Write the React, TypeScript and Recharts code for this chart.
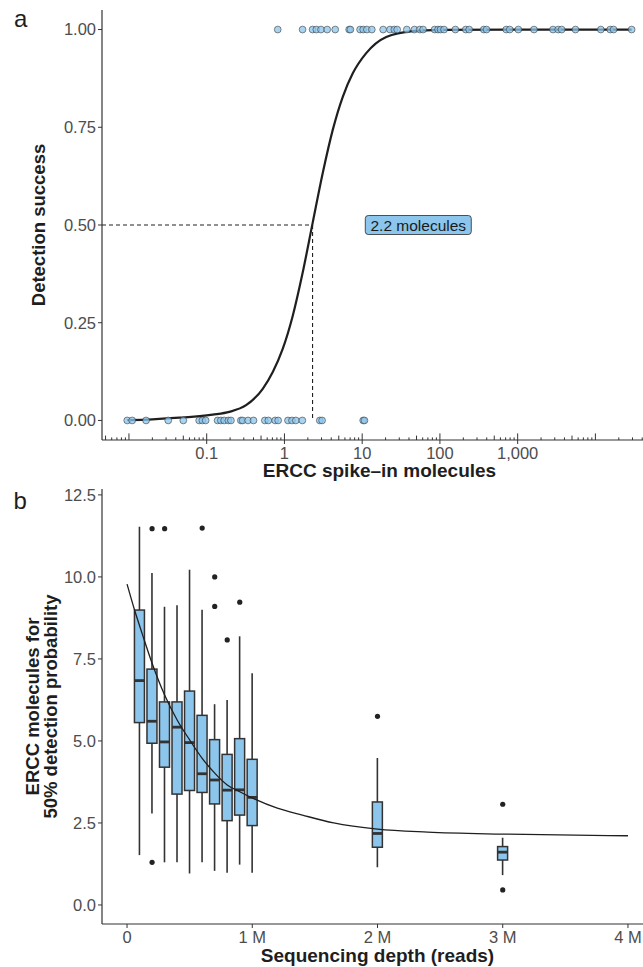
import React from "react";
import {
  ComposedChart,
  Line,
  Scatter,
  Bar,
  XAxis,
  YAxis,
  ReferenceLine,
} from "recharts";

const FONT = '"Liberation Sans", Arial, Helvetica, sans-serif';
const GRAU = "#4d4d4d"; // tick text
const ACHSE = "#333333";
const BLAU = "#8cc6ec";
const TITEL = "#1e1e1e";
const BOX_BREITE = 10;

// ---- panel a: detection vs. ERCC spike-in molecules ----
const missedMolecules = [
  0.0095, 0.011, 0.0166, 0.032, 0.05, 0.08, 0.088, 0.097, 0.138, 0.152, 0.168,
  0.19, 0.205, 0.275, 0.29, 0.34, 0.4, 0.56, 0.62, 0.76, 0.83, 1.11, 1.25, 1.4,
  1.7, 2.85, 3.05, 10.3, 10.7,
];
const detectedMolecules = [
  0.82, 1.71, 2.3, 2.57, 2.95, 3.55, 4.5, 6.8, 7.06, 9.4, 10.3, 11.5, 13.3,
  18.6, 22.8, 25.9, 28.2, 37.5, 47, 55, 60.8, 85.5, 94.6, 102, 113, 158, 215,
  238, 366, 398, 713, 791, 1020, 1622, 2846, 3319, 3681, 5543, 11730, 15500,
  17140, 29240,
];
const fitMolecules = [
  0.0095, 0.02, 0.0445, 0.119, 0.196, 0.321, 0.526, 0.708, 0.95, 1.28, 1.72,
  2.31, 3.11, 4.19, 5.63, 7.57, 11.2, 20.4, 44.8, 100, 1000, 29240,
];
const fitSuccess = [
  0.001, 0.003, 0.007, 0.015, 0.022, 0.039, 0.081, 0.124, 0.183, 0.268, 0.379,
  0.506, 0.633, 0.744, 0.828, 0.888, 0.939, 0.981, 0.996, 0.999, 1, 1,
];
const halfMolecules = 2.3;
const halfLabel = "2.2 molecules";
const halfLabelAt = 52.7;

const successTicks = [0, 0.25, 0.5, 0.75, 1];
const moleculeTicks = [0.1, 1, 10, 100, 1000];
const moleculeTickLabels = ["0.1", "1", "10", "100", "1,000"];

// ---- panel b: 50% detection molecules per sequencing depth ----
const depthM = [0.1, 0.2, 0.3, 0.4, 0.5, 0.6, 0.7, 0.8, 0.9, 1.0, 2, 3];
const whiskerLow = [1.52, 2.79, 1.3, 1.3, 0.96, 1.3, 1.04, 0.98, 1.23, 0.98, 1.15, 0.91];
const quart1 = [5.56, 4.93, 4.2, 3.38, 3.49, 3.43, 3.08, 2.57, 2.74, 2.42, 1.76, 1.37];
const medians = [6.84, 5.6, 4.97, 5.42, 4.95, 4.0, 3.81, 3.5, 3.51, 3.28, 2.18, 1.61];
const quart3 = [8.99, 7.19, 6.19, 6.19, 6.52, 5.78, 5.04, 4.59, 5.07, 4.44, 3.14, 1.78];
const whiskerHigh = [11.53, 10.12, 9.09, 9.14, 10.22, 9.0, 6.12, 6.25, 8.19, 7.06, 4.48, 2.05];

const outlierDepthM = [0.2, 0.2, 0.3, 0.6, 0.7, 0.7, 0.8, 0.9, 2, 3, 3];
const outlierValue = [11.47, 1.3, 11.47, 11.49, 10.0, 9.1, 8.08, 9.23, 5.75, 3.07, 0.46];

const fitDepthM = [0, 0.06, 0.12, 0.2, 0.3, 0.4, 0.5, 0.6, 0.7, 0.8, 0.9, 1.0, 1.2, 1.4, 1.65, 2.0, 2.4, 3.0, 4.0];
const fitValue = [9.78, 8.99, 8.28, 7.37, 6.4, 5.64, 5.03, 4.47, 4.02, 3.66, 3.45, 3.26, 2.95, 2.74, 2.5, 2.31, 2.22, 2.16, 2.11];

const valueTicks = [0, 2.5, 5, 7.5, 10, 12.5];
const depthTicks = [0, 1, 2, 3, 4];

// tables for recharts
const fitA = fitMolecules.map((x, i) => ({ x, y: fitSuccess[i] }));
const pointsA = [
  ...missedMolecules.map((x) => ({ x, y: 0 })),
  ...detectedMolecules.map((x) => ({ x, y: 1 })),
];
const labelA = [{ x: halfLabelAt, y: 0.5 }];

const boxes = depthM.map((depth, i) => ({
  depth,
  lo: whiskerLow[i],
  q1: quart1[i],
  med: medians[i],
  q3: quart3[i],
  hi: whiskerHigh[i],
  range: [whiskerLow[i], whiskerHigh[i]],
}));
const outliers = outlierDepthM.map((depth, i) => ({ depth, value: outlierValue[i] }));
const fitB = fitDepthM.map((depth, i) => ({ depth, value: fitValue[i] }));

// log ticks 1..9 x 10^k inside the axis domain
const X_MIN = 0.0045;
const X_MAX = 62000;
const logTicks: number[] = [];
for (let k = -3; k <= 4; k++) {
  for (let m = 1; m <= 9; m++) {
    const v = m * Math.pow(10, k);
    if (v >= X_MIN && v <= X_MAX) logTicks.push(v);
  }
}

function LogTick(props: any) {
  const { x, y, payload } = props;
  const v = payload.value as number;
  const e = Math.floor(Math.log10(v) + 1e-9);
  const mant = Math.round(v / Math.pow(10, e));
  const idx = moleculeTicks.findIndex((t) => Math.abs(t - v) / t < 1e-6);
  const up = mant === 1 ? 6.6 : mant === 5 ? 4.4 : 2.6;
  return (
    <g>
      <line x1={x} x2={x} y1={y - up} y2={idx >= 0 ? y + 4 : y} stroke={ACHSE} strokeWidth={1} />
      {idx >= 0 && (
        <text x={x} y={y + 18.5} textAnchor="middle" fill={GRAU} fontSize={16.5} fontFamily={FONT}>
          {moleculeTickLabels[idx]}
        </text>
      )}
    </g>
  );
}

function HalfLabel(props: any) {
  const { cx, cy } = props;
  if (cx == null || cy == null) return null;
  const w = 106;
  const h = 19;
  return (
    <g>
      <rect x={cx - w / 2} y={cy - h / 2} width={w} height={h} rx={3} ry={3} fill={BLAU} stroke="#2a2a2a" strokeWidth={0.8} />
      <text x={cx} y={cy + 5.5} textAnchor="middle" fontSize={15.5} fontFamily={FONT} fill="#1a1a1a">
        {halfLabel}
      </text>
    </g>
  );
}

function BoxShape(props: any) {
  const { x, y, width, height, payload } = props;
  if (x == null || y == null || !payload) return null;
  const top = Math.min(y, y + height);
  const bot = Math.max(y, y + height);
  const { lo, hi, q1, q3, med } = payload;
  const py = (v: number) => top + ((hi - v) / (hi - lo)) * (bot - top);
  const cx = x + (width || 0) / 2;
  const bx = cx - BOX_BREITE / 2;
  return (
    <g>
      <line x1={cx} x2={cx} y1={py(hi)} y2={py(q3)} stroke={ACHSE} strokeWidth={1.6} />
      <line x1={cx} x2={cx} y1={py(q1)} y2={py(lo)} stroke={ACHSE} strokeWidth={1.6} />
      <rect x={bx} y={py(q3)} width={BOX_BREITE} height={py(q1) - py(q3)} fill={BLAU} stroke={ACHSE} strokeWidth={1.5} />
      <line x1={bx} x2={bx + BOX_BREITE} y1={py(med)} y2={py(med)} stroke={ACHSE} strokeWidth={2.8} />
    </g>
  );
}

const xTitle = (text: string, base: number) => (props: any) => {
  const vb = props.viewBox || { x: 102, y: 440, width: 555, height: 55 };
  return (
    <text x={vb.x + vb.width / 2} y={vb.y + base} textAnchor="middle" fontFamily={FONT} fontSize={19} fontWeight="bold" fill={TITEL}>
      {text}
    </text>
  );
};

const yTitle = (lines: string[], baselines: number[]) => (props: any) => {
  const vb = props.viewBox || { x: 0, y: 0, width: 102, height: 400 };
  const cy = vb.y + vb.height / 2;
  return (
    <g>
      {lines.map((t, i) => (
        <text
          key={t}
          transform={`translate(${vb.x + baselines[i]}, ${cy}) rotate(-90)`}
          textAnchor="middle"
          fontFamily={FONT}
          fontSize={18.5}
          fontWeight="bold"
          fill={TITEL}
        >
          {t}
        </text>
      ))}
    </g>
  );
};

function PanelA() {
  return (
    <ComposedChart width={660} height={495} data={fitA} margin={{ top: 10, right: 3, bottom: 0, left: 0 }}>
      <XAxis
        dataKey="x"
        type="number"
        scale="log"
        domain={[X_MIN, X_MAX]}
        allowDataOverflow
        ticks={logTicks}
        interval={0}
        tickSize={0}
        tickMargin={0}
        tickLine={false}
        tick={<LogTick />}
        axisLine={{ stroke: ACHSE, strokeWidth: 1.2 }}
        height={55}
        label={xTitle("ERCC spike\u2013in molecules", 37.3)}
      />
      <YAxis
        dataKey="y"
        type="number"
        domain={[-0.05, 1.05]}
        allowDataOverflow
        ticks={successTicks}
        interval={0}
        tickFormatter={(v: number) => v.toFixed(2)}
        tick={{ fill: GRAU, fontSize: 16.5, fontFamily: FONT }}
        tickSize={4}
        tickMargin={2}
        tickLine={{ stroke: ACHSE }}
        axisLine={{ stroke: ACHSE, strokeWidth: 1.2 }}
        width={102}
        label={yTitle(["Detection success"], [45])}
      />
      <ReferenceLine
        segment={[{ x: X_MIN, y: 0.5 }, { x: halfMolecules, y: 0.5 }]}
        stroke="#222"
        strokeWidth={1.1}
        strokeDasharray="4 3"
      />
      <ReferenceLine
        segment={[{ x: halfMolecules, y: 0.5 }, { x: halfMolecules, y: 0 }]}
        stroke="#222"
        strokeWidth={1.1}
        strokeDasharray="4 3"
      />
      <Scatter
        data={pointsA}
        isAnimationActive={false}
        shape={(p: any) => (
          <circle cx={p.cx} cy={p.cy} r={3.4} fill={BLAU} fillOpacity={0.75} stroke="#2b2b2b" strokeOpacity={0.6} strokeWidth={0.9} />
        )}
      />
      <Line type="monotone" dataKey="y" stroke="#1f1f1f" strokeWidth={2.2} dot={false} isAnimationActive={false} />
      <Scatter data={labelA} isAnimationActive={false} shape={<HalfLabel />} />
    </ComposedChart>
  );
}

function PanelB() {
  return (
    <ComposedChart width={660} height={497} data={boxes} margin={{ top: 19, right: 7, bottom: 0, left: 0 }}>
      <XAxis
        dataKey="depth"
        type="number"
        domain={[-0.2, 4.2]}
        allowDataOverflow
        ticks={depthTicks}
        interval={0}
        tickFormatter={(v: number) => (v === 0 ? "0" : `${v} M`)}
        tick={{ fill: GRAU, fontSize: 16.5, fontFamily: FONT }}
        tickSize={4}
        tickMargin={3}
        tickLine={{ stroke: ACHSE }}
        axisLine={{ stroke: ACHSE, strokeWidth: 1.2 }}
        height={43}
        label={xTitle("Sequencing depth (reads)", 37.5)}
      />
      <YAxis
        dataKey="value"
        type="number"
        domain={[-0.58, 12.68]}
        allowDataOverflow
        ticks={valueTicks}
        interval={0}
        tickFormatter={(v: number) => v.toFixed(1)}
        tick={{ fill: GRAU, fontSize: 16.5, fontFamily: FONT }}
        tickSize={4}
        tickMargin={2}
        tickLine={{ stroke: ACHSE }}
        axisLine={{ stroke: ACHSE, strokeWidth: 1.2 }}
        width={102}
        label={yTitle(["ERCC molecules for", "50% detection probability"], [38.5, 57])}
      />
      <Bar dataKey="range" barSize={10} isAnimationActive={false} shape={<BoxShape />} />
      <Scatter
        data={outliers}
        isAnimationActive={false}
        shape={(p: any) => <circle cx={p.cx} cy={p.cy} r={2.6} fill="#222" />}
      />
      <Line data={fitB} type="monotone" dataKey="value" stroke="#1f1f1f" strokeWidth={1.3} dot={false} isAnimationActive={false} />
    </ComposedChart>
  );
}

export default function App() {
  return (
    <div
      style={{
        position: "absolute",
        left: 0,
        top: 0,
        width: 643,
        height: 967,
        overflow: "hidden",
        background: "#ffffff",
        fontFamily: FONT,
      }}
    >
      <div style={{ position: "absolute", left: 0, top: 0 }}>
        <PanelA />
      </div>
      <div style={{ position: "absolute", left: 0, top: 470 }}>
        <PanelB />
      </div>
      <svg width={643} height={967} style={{ position: "absolute", left: 0, top: 0, pointerEvents: "none" }}>
        <text x={14} y={26.7} fontSize={24} fontFamily={FONT} fill={TITEL}>a</text>
        <text x={13.5} y={509} fontSize={24} fontFamily={FONT} fill={TITEL}>b</text>
      </svg>
    </div>
  );
}
